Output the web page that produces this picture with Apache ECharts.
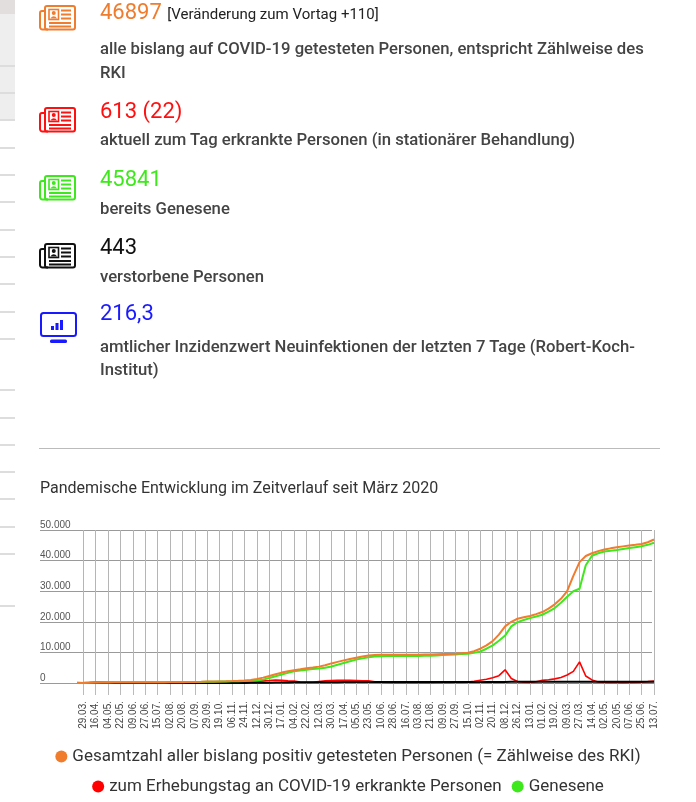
<!DOCTYPE html>
<html lang="de">
<head>
<meta charset="UTF-8">
<title>Corona Fallzahlen</title>
<script src="https://cdn.jsdelivr.net/npm/echarts/dist/echarts.min.js"></script>
<style>
	body{margin:0;width:696px;height:802px;position:relative;overflow:hidden;background:#fff;font-family:Roboto,"Noto Sans",sans-serif;}
	#chart{position:absolute;left:0;top:0;width:696px;height:802px;}
	.side{position:absolute;left:0;width:15px;}
	.row{position:absolute;left:100px;white-space:nowrap;z-index:2;}
	.num{font-size:22px;line-height:26px;}
	.desc{font-size:16.7px;line-height:24px;font-weight:500;color:#444;}
	.icon{position:absolute;left:39px;z-index:2;}
</style>
</head>
<body>
	<div id="chart"></div>

	<div class="side" style="top:0;height:120px;background:#eeeeee"></div>
	<div class="side" style="top:0;height:14px;background:#e2dede"></div>
	<div id="sidelines"></div>

	<div class="icon" style="top:5px" data-card="#f07c2e"></div>
	<div class="row num" style="top:-1px;color:#f07c2e">46897 <span style="font-size:15px;color:#222">[Veränderung zum Vortag +110]</span></div>
	<div class="row desc" style="top:37px">alle bislang auf COVID-19 getesteten Personen, entspricht Zählweise des<br>RKI</div>

	<div class="icon" style="top:107px" data-card="#ff1010"></div>
	<div class="row num" style="top:98px;color:#ff1010">613 (22)</div>
	<div class="row desc" style="top:128px">aktuell zum Tag erkrankte Personen (in stationärer Behandlung)</div>

	<div class="icon" style="top:175px" data-card="#3fe81c"></div>
	<div class="row num" style="top:166px;color:#3fe81c">45841</div>
	<div class="row desc" style="top:197px">bereits Genesene</div>

	<div class="icon" style="top:243px" data-card="#111"></div>
	<div class="row num" style="top:234px;color:#111">443</div>
	<div class="row desc" style="top:265px">verstorbene Personen</div>

	<div class="icon" style="top:312px;left:40px">
		<svg width="38" height="32" viewBox="0 0 38 32">
			<rect x="1" y="1" width="35" height="23" rx="2.5" fill="none" stroke="#1a1aff" stroke-width="2"/>
			<rect x="11" y="14" width="3" height="4" fill="#1a1aff"/>
			<rect x="15.5" y="11" width="3" height="7" fill="#1a1aff"/>
			<rect x="20" y="8" width="3" height="10" fill="#1a1aff"/>
			<rect x="10" y="27.5" width="17" height="3.5" rx="1.5" fill="#1a1aff"/>
		</svg>
	</div>
	<div class="row num" style="top:300px;color:#1a1aff">216,3</div>
	<div class="row desc" style="top:335px;line-height:23px">amtlicher Inzidenzwert Neuinfektionen der letzten 7 Tage (Robert-Koch-<br>Institut)</div>

	<div style="position:absolute;left:39px;top:448px;width:621px;height:1px;background:#bbb"></div>

	<script>
		// x-Achse: Beschriftung alle 18 Tage
		var tickLabels = ["29.03.","16.04.","04.05.","22.05.","09.06.","27.06.","15.07.","02.08.","20.08.","07.09.",
			"29.09.","19.10.","06.11.","24.11.","12.12.","30.12.","17.01.","04.02.","22.02.","12.03.",
			"30.03.","17.04.","05.05.","23.05.","10.06.","28.06.","16.07.","03.08.","21.08.","09.09.",
			"27.09.","15.10.","02.11.","20.11.","08.12.","26.12.","13.01.","01.02.","19.02.","09.03.",
			"27.03.","14.04.","02.05.","20.05.","07.06.","25.06.","13.07."];

		var seriesNames = ["Gesamtzahl aller bislang positiv getesteten Personen (= Zählweise des RKI)",
			"zum Erhebungstag an COVID-19 erkrankte Personen", "Genesene", "verstorbene Personen"];

		// Werte je halbem Beschriftungsabstand (erster Wert kurz vor 29.03.)
		var gesamt = [20,80,150,200,220,230,240,250,255,260,265,270,275,280,285,290,300,310,320,340,
			390,450,480,520,560,620,700,800,1000,1300,1750,2300,2850,3400,3850,4200,4500,4850,5050,5350,
			5800,6400,6900,7400,7850,8250,8650,9000,9150,9200,9200,9200,9200,9200,9220,9250,9300,9350,9400,9450,
			9500,9570,9700,9900,10400,11200,12300,13700,15800,18500,20000,21000,21500,21900,22500,23200,24300,25700,27500,30000,
			35000,39500,41500,42400,43100,43600,44000,44350,44650,44900,45150,45450,46000,46897];

		var erkrankt = [150,100,180,280,320,250,120,60,40,20,15,10,10,15,20,20,25,30,40,50,
			80,100,110,120,150,180,220,300,450,600,700,800,1000,850,700,600,350,200,250,500,
			700,800,850,900,850,800,750,700,400,150,60,30,20,20,20,30,40,50,60,80,
			100,150,200,300,550,900,1200,1700,2400,4300,1500,500,250,150,400,850,1050,1350,1800,2600,
			3800,6900,2300,1000,350,200,100,60,50,80,150,300,450,613];

		var genesen = [0,20,80,130,170,200,215,225,235,240,245,250,255,260,265,270,275,280,290,300,
			330,380,420,460,500,540,600,650,700,800,1100,1650,2200,2800,3300,3800,4100,4350,4550,4750,
			5000,5400,5950,6550,7100,7650,8050,8400,8650,8750,8800,8800,8800,8800,8820,8850,8880,8920,9000,9150,
			9250,9350,9450,9550,9850,10300,11200,12300,13800,15500,18500,19900,20600,21200,21750,22300,23300,24500,26200,28200,
			30000,30800,38500,41600,42400,42950,43250,43500,43800,44100,44400,44700,45150,45841];

		var verstorben = [0,0,2,4,6,8,9,10,10,10,10,11,11,11,12,12,12,13,13,14,
			15,16,18,20,22,25,30,40,50,60,80,100,135,170,195,220,235,250,258,265,
			270,275,282,290,295,300,302,305,306,307,308,309,310,311,312,313,314,315,316,317,
			318,320,322,325,327,330,335,340,350,360,370,380,388,395,400,405,408,410,415,420,
			425,430,433,435,437,438,439,440,441,441,442,442,443,443];

		var colors = ["#f07c2e", "#ff0000", "#3fe81c", "#000000"];

		// Kategorien: Beschriftung plus leere Zwischenpunkte
		var cats = [""];
		tickLabels.forEach(function(l, i){
			cats.push(l);
			if(i < tickLabels.length - 1) cats.push("");
		});
		var labelled = function(idx, val){ return val !== ""; };

		// Icons
		function card(c){
			return '<svg width="37" height="26" viewBox="0 0 37 26">'+
				'<path d="M6.5 6 H3 a2 2 0 0 0 -2 2 V22 a2.5 2.5 0 0 0 2.5 2.5 H9" fill="none" stroke="'+c+'" stroke-width="2"/>'+
				'<rect x="6" y="1" width="30" height="23.5" rx="2" fill="none" stroke="'+c+'" stroke-width="2"/>'+
				'<rect x="10" y="4.5" width="9.5" height="10" fill="none" stroke="'+c+'" stroke-width="1.6"/>'+
				'<circle cx="14.75" cy="8" r="2" fill="'+c+'"/>'+
				'<path d="M11.3 13.6 Q14.75 9 18.2 13.6 Z" fill="'+c+'"/>'+
				'<path d="M22 5.5 H32 M22 9.5 H32 M22 13.5 H32 M10 18 H32 M10 21.5 H32" stroke="'+c+'" stroke-width="1.8"/>'+
				'</svg>';
		}
		document.querySelectorAll("[data-card]").forEach(function(el){
			el.innerHTML = card(el.getAttribute("data-card"));
		});

		// graue Linien am linken Rand
		var sideLines = [65,92,119,147,174,201,229,256,283,311,338,389,417,444,471,498,526,553,605];
		document.getElementById("sidelines").innerHTML = sideLines.map(function(y){
			return '<div class="side" style="top:'+y+'px;height:2px;background:#dddddd"></div>';
		}).join("");

		var myChart = echarts.init(document.getElementById("chart"));
		var option = {
			animation: false,
			title: {
				text: "Pandemische Entwicklung im Zeitverlauf seit März 2020",
				left: 40,
				top: 481,
				padding: 0,
				textStyle: {fontSize: 16, fontWeight: "normal", color: "#333", fontFamily: "Roboto"}
			},
			legend: [{
				data: [seriesNames[0]],
				left: "center",
				top: 748,
				padding: 0,
				icon: "circle",
				itemWidth: 12, itemHeight: 12, itemGap: 10,
				textStyle: {fontSize: 17, color: "#333", fontFamily: "Roboto"}
			}, {
				data: [seriesNames[1], seriesNames[2]],
				left: "center",
				top: 778,
				padding: 0,
				icon: "circle",
				itemWidth: 12, itemHeight: 12, itemGap: 10,
				textStyle: {fontSize: 17, color: "#333", fontFamily: "Roboto"}
			}],
			grid: [
				{left: 40, right: 44, top: 530, height: 153},//nur für y-Linien und Beschriftung
				{left: 77, right: 42, top: 530, height: 153}
			],
			xAxis: [{
				gridIndex: 0, type: "value", show: false
			}, {
				gridIndex: 1,
				type: "category",
				data: cats,
				boundaryGap: false,
				axisLine: {lineStyle: {color: "#888"}},
				axisTick: {interval: labelled, length: 12, lineStyle: {color: "#bbb"}},
				axisLabel: {interval: labelled, rotate: 90, fontSize: 10, color: "#444", margin: 18, fontFamily: "Liberation Sans"},
				splitLine: {show: true, interval: labelled, lineStyle: {color: "#b5b5b5"}}
			}],
			yAxis: [{
				gridIndex: 0,
				type: "value",
				min: 0, max: 50000, interval: 10000,
				axisLine: {show: false},
				axisTick: {show: false},
				axisLabel: {
					inside: true, margin: 0, fontSize: 10, color: "#555", fontFamily: "Liberation Sans",
					verticalAlign: "bottom",
					formatter: function(v){ return v === 0 ? "0" : (v / 1000) + ".000"; }
				},
				splitLine: {lineStyle: {color: "#9a9a9a", width: 1.2}}
			}, {
				gridIndex: 1, type: "value", min: 0, max: 50000, show: false
			}],
			series: [
				{name: seriesNames[1], type: "line", xAxisIndex: 1, yAxisIndex: 1, data: erkrankt, showSymbol: false, color: colors[1], lineStyle: {width: 1.6}},
				{name: seriesNames[3], type: "line", xAxisIndex: 1, yAxisIndex: 1, data: verstorben, showSymbol: false, color: colors[3], lineStyle: {width: 2}},
				{name: seriesNames[2], type: "line", xAxisIndex: 1, yAxisIndex: 1, data: genesen, showSymbol: false, color: colors[2], lineStyle: {width: 2}},
				{name: seriesNames[0], type: "line", xAxisIndex: 1, yAxisIndex: 1, data: gesamt, showSymbol: false, color: colors[0], lineStyle: {width: 2}}
			]
		};
		myChart.setOption(option);
	</script>
</body>
</html>
